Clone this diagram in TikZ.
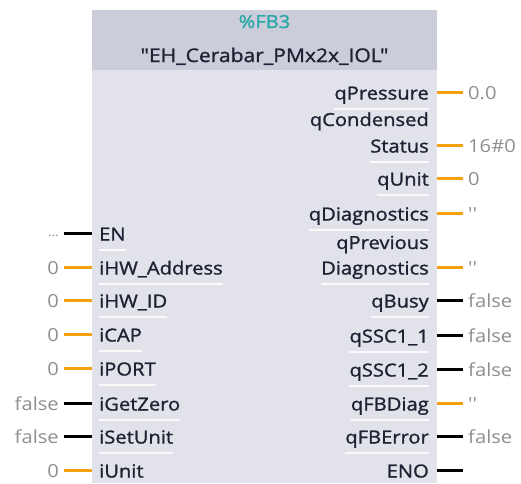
\documentclass[tikz,border=0pt]{standalone}
\usepackage{fontspec}
\setmainfont{Open Sans}[FakeStretch=1.12, Ligatures=TeXOff]
\newfontfamily\lblfont{Open Sans}[FakeStretch=1.12, FakeBold=1.3, Ligatures=TeXOff]
\definecolor{hdrbg}{HTML}{CBCEDA}
\definecolor{bodybg}{HTML}{E1E2EA}
\definecolor{lblc}{HTML}{1F2233}
\definecolor{valc}{HTML}{8E8E8E}
\definecolor{fbteal}{HTML}{2AA7A8}
\definecolor{wor}{HTML}{F5A10F}
\newcommand{\qq}{\char39\char39}
\begin{document}
\begin{tikzpicture}[x=1pt,y=-1pt,
  font=\fontsize{18}{20}\selectfont,
  rlab/.style={anchor=base east, inner sep=0pt, text=lblc, font=\fontsize{18}{20}\lblfont},
  llab/.style={anchor=base west, inner sep=0pt, text=lblc, font=\fontsize{18}{20}\lblfont},
  rval/.style={anchor=base west, inner sep=0pt, text=valc},
  lval/.style={anchor=base east, inner sep=0pt, text=valc},
  wo/.style={draw=wor, line width=3pt},
  wb/.style={draw=black, line width=3pt},
  sepl/.style={draw=white, line width=1.2pt, opacity=0.85}]
\useasboundingbox (0,0) rectangle (521,483);
% block
\fill[bodybg] (92,10) rectangle (437,483);
\fill[hdrbg] (92,10) rectangle (437,70);
\node[anchor=base, inner sep=0pt, text=fbteal, font=\fontsize{18}{20}\lblfont] (inst) at (264.5,28) {\%FB3};
\node[anchor=base, inner sep=0pt, text=lblc, font=\fontsize{18.8}{20}\lblfont] (fbname) at (264.5,62) {"EH\_Cerabar\_PMx2x\_IOL"};
% two-line label tops
\node[rlab] (r2top) at (429,126) {qCondensed};
\node[rlab] (r5top) at (429,249) {qPrevious};
% right pins
\foreach \i/\y/\t/\v/\s in {1/92/qPressure/0.0/wo, 2/145/Status/16\#0/wo, 3/178/qUnit/0/wo,
  4/213/qDiagnostics/\qq/wo, 5/267/Diagnostics/\qq/wo, 6/300/qBusy/false/wb,
  7/335/qSSC1\_1/false/wb, 8/369/qSSC1\_2/false/wb, 9/403/qFBDiag/\qq/wo,
  10/436/qFBError/false/wb, 11/470/ENO//wb}{
  \node[rlab] (rl\i) at (429,\y+7.5) {\t};
  \coordinate (rp\i) at (437,\y);
  \coordinate (re\i) at (463,\y);
  \node[rval] (rv\i) at (468,\y+7.5) {\v};
  \draw[\s] (rp\i) -- (re\i);
  \draw[sepl] ([yshift=-9.5pt]rl\i.base west) -- ([yshift=-9.5pt]rl\i.base east);
}
% left pins
\foreach \i/\y/\t/\v/\s in {2/267/iHW\_Address/0/wo, 3/300/iHW\_ID/0/wo,
  4/334/iCAP/0/wo, 5/368/iPORT/0/wo, 6/403/iGetZero/false/wb,
  7/436/iSetUnit/false/wb, 8/470/iUnit/0/wo}{
  \node[llab] (ll\i) at (99,\y+7.5) {\t};
  \coordinate (lp\i) at (92,\y);
  \coordinate (le\i) at (64,\y);
  \node[lval] (lv\i) at (59,\y+7.5) {\v};
  \draw[\s] (le\i) -- (lp\i);
  \draw[sepl] ([yshift=-9.5pt]ll\i.base west) -- ([yshift=-9.5pt]ll\i.base east);
}
% EN
\node[llab] (ll1) at (99,233+7.5) {EN};
\coordinate (lp1) at (92,233);
\coordinate (le1) at (64,233);
\node[lval, font=\fontsize{12}{13}\selectfont] (lv1) at (59,233+3) {...};
\draw[wb] (le1) -- (lp1);
\draw[sepl] ([yshift=-9.5pt]ll1.base west) -- ([yshift=-9.5pt]ll1.base east);
\end{tikzpicture}
\end{document}
